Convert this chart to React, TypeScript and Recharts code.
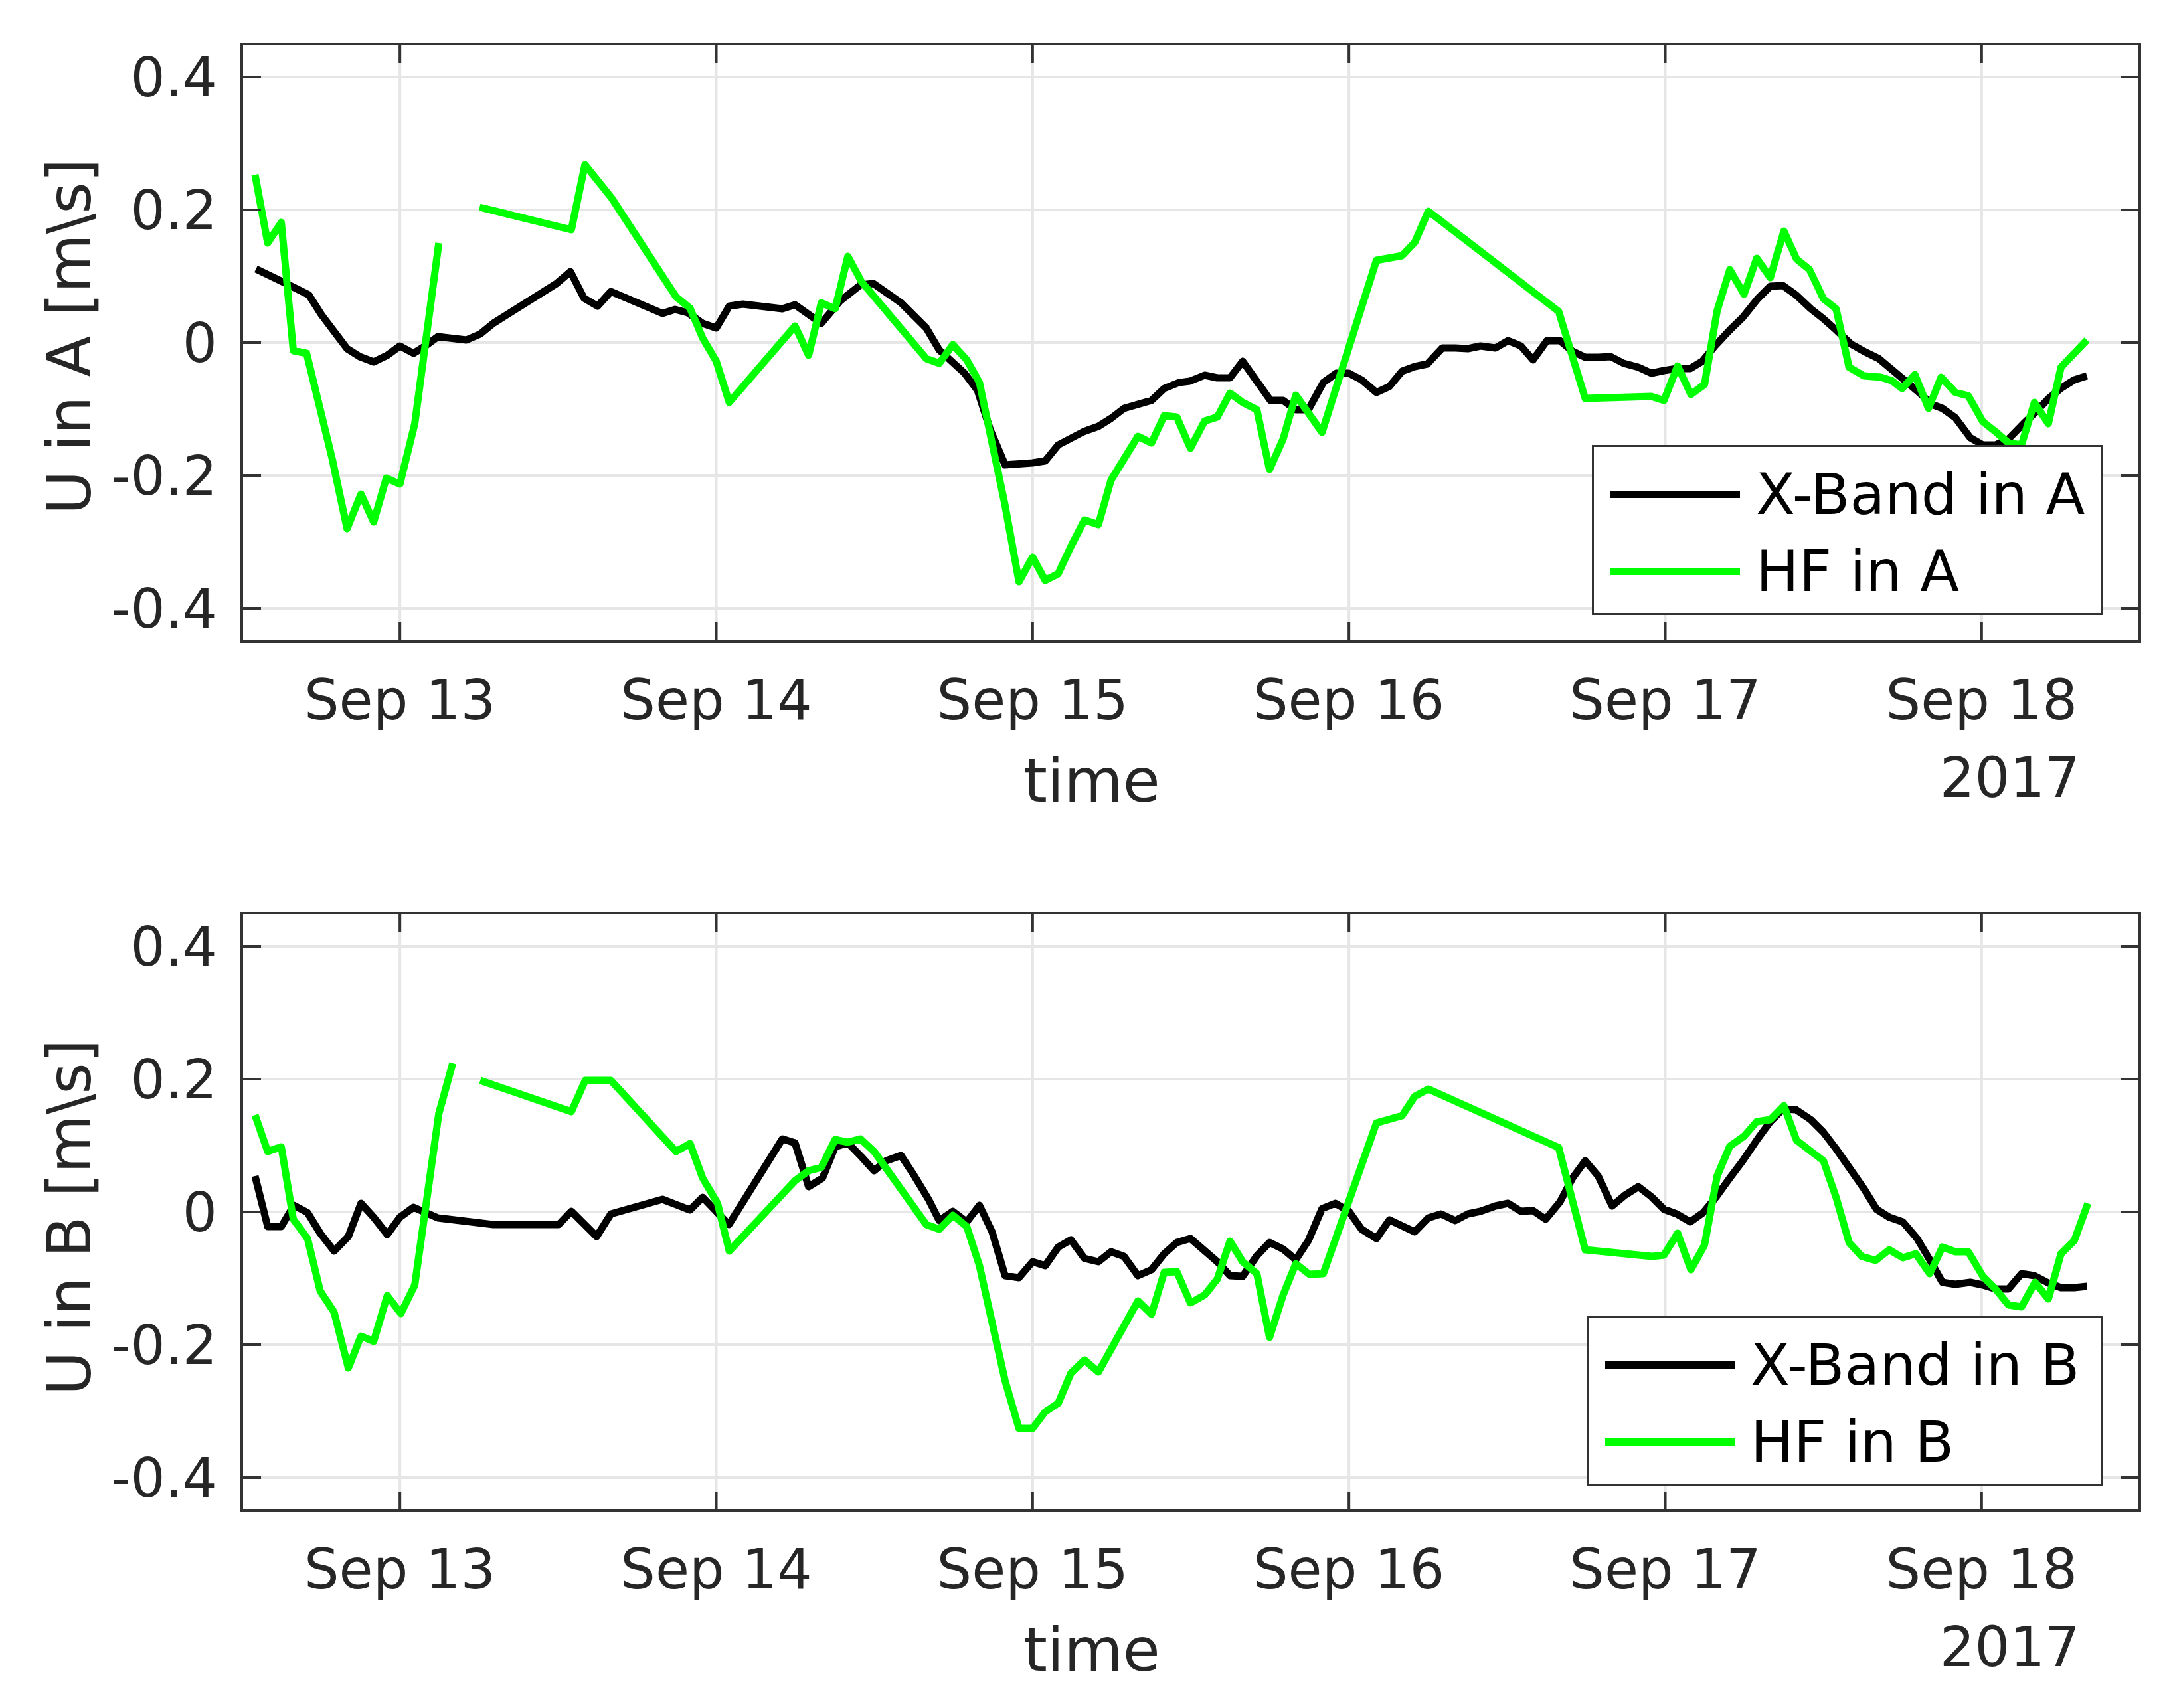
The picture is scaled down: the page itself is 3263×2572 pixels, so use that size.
import React from "react";
import {
  LineChart,
  Line,
  XAxis,
  YAxis,
  CartesianGrid,
  ReferenceArea,
  Legend,
  Label,
} from "recharts";

// time in days of September 2017, values in m/s
const xTicks = [13, 14, 15, 16, 17, 18];
const yTicks = [-0.4, -0.2, 0, 0.2, 0.4];
const xTickLabels = ["Sep 13", "Sep 14", "Sep 15", "Sep 16", "Sep 17", "Sep 18"];

const xbandATime = [
  12.545, 12.632, 12.712, 12.752, 12.833, 12.873, 12.917, 12.96, 13.0, 13.043, 13.08, 13.12,
  13.21, 13.254, 13.295, 13.495, 13.539, 13.582, 13.625, 13.667, 13.83, 13.87, 13.91, 13.957,
  14.0, 14.041, 14.084, 14.209, 14.249, 14.332, 14.392, 14.456, 14.497, 14.584, 14.664, 14.705,
  14.785, 14.826, 14.866, 14.913, 15.0, 15.04, 15.081, 15.161, 15.208, 15.248, 15.289, 15.376,
  15.416, 15.463, 15.497, 15.544, 15.584, 15.624, 15.664, 15.752, 15.792, 15.832, 15.872, 15.919,
  15.96, 16.0, 16.04, 16.087, 16.128, 16.168, 16.208, 16.248, 16.295, 16.336, 16.376, 16.416,
  16.463, 16.503, 16.544, 16.582, 16.626, 16.667, 16.707, 16.747, 16.788, 16.828, 16.868, 16.915,
  16.956, 16.996, 17.036, 17.079, 17.117, 17.157, 17.204, 17.245, 17.292, 17.332, 17.372, 17.413,
  17.46, 17.5, 17.54, 17.587, 17.628, 17.675, 17.715, 17.755, 17.802, 17.843, 17.876, 17.917,
  17.964, 18.004, 18.044, 18.085, 18.132, 18.172, 18.212, 18.253, 18.293, 18.333,
];
const xbandAVal = [
  0.111, 0.091, 0.072, 0.042, -0.009, -0.021, -0.029, -0.019, -0.005, -0.016, -0.005, 0.009,
  0.004, 0.013, 0.029, 0.089, 0.107, 0.067, 0.055, 0.077, 0.044, 0.05, 0.045, 0.029,
  0.022, 0.055, 0.058, 0.051, 0.057, 0.029, 0.063, 0.087, 0.089, 0.06, 0.022, -0.011,
  -0.046, -0.072, -0.131, -0.184, -0.181, -0.178, -0.154, -0.134, -0.126, -0.114, -0.099, -0.087,
  -0.069, -0.06, -0.058, -0.049, -0.053, -0.053, -0.028, -0.087, -0.087, -0.101, -0.101, -0.06,
  -0.046, -0.046, -0.056, -0.075, -0.066, -0.043, -0.036, -0.032, -0.008, -0.008, -0.009, -0.005,
  -0.008, 0.003, -0.005, -0.026, 0.003, 0.003, -0.013, -0.022, -0.022, -0.021, -0.031, -0.037,
  -0.046, -0.042, -0.039, -0.039, -0.028, -0.005, 0.019, 0.038, 0.066, 0.085, 0.086, 0.072,
  0.051, 0.036, 0.019, -0.002, -0.013, -0.024, -0.04, -0.056, -0.075, -0.093, -0.099, -0.113,
  -0.143, -0.154, -0.154, -0.145, -0.122, -0.104, -0.084, -0.068, -0.056, -0.05,
];

const hfATime = [
  12.542, 12.582, 12.625, 12.663, 12.705, 12.786, 12.833, 12.877, 12.917, 12.957, 13.0, 13.047,
  13.123, 13.19, 13.252, 13.542, 13.585, 13.669, 13.873, 13.917, 13.957, 14.0, 14.041, 14.249,
  14.292, 14.332, 14.376, 14.416, 14.459, 14.664, 14.705, 14.748, 14.792, 14.832, 14.913, 14.957,
  15.0, 15.04, 15.081, 15.121, 15.164, 15.208, 15.248, 15.333, 15.376, 15.416, 15.456, 15.499,
  15.544, 15.584, 15.624, 15.664, 15.709, 15.749, 15.792, 15.832, 15.915, 16.087, 16.168, 16.208,
  16.251, 16.663, 16.747, 16.956, 16.996, 17.039, 17.081, 17.124, 17.164, 17.204, 17.249, 17.289,
  17.332, 17.375, 17.415, 17.456, 17.5, 17.54, 17.581, 17.628, 17.681, 17.715, 17.749, 17.789,
  17.832, 17.872, 17.917, 17.958, 18.004, 18.044, 18.085, 18.126, 18.167, 18.211, 18.251, 18.293,
  18.333,
];
const hfAVal = [
  0.253, 0.15, 0.181, -0.012, -0.016, -0.175, -0.28, -0.228, -0.27, -0.204, -0.213, -0.122,
  0.15, null, 0.204, 0.17, 0.268, 0.218, 0.069, 0.052, 0.007, -0.028, -0.09, 0.025,
  -0.019, 0.06, 0.051, 0.13, 0.092, -0.024, -0.031, -0.003, -0.026, -0.06, -0.245, -0.36,
  -0.323, -0.358, -0.348, -0.307, -0.267, -0.274, -0.207, -0.141, -0.151, -0.11, -0.112, -0.159,
  -0.118, -0.112, -0.076, -0.09, -0.101, -0.191, -0.145, -0.079, -0.135, 0.124, 0.131, 0.151,
  0.198, 0.047, -0.084, -0.081, -0.087, -0.035, -0.078, -0.063, 0.048, 0.11, 0.073, 0.127,
  0.098, 0.168, 0.126, 0.11, 0.066, 0.051, -0.037, -0.05, -0.052, -0.057, -0.069, -0.048,
  -0.099, -0.052, -0.075, -0.08, -0.119, -0.134, -0.151, -0.154, -0.09, -0.122, -0.037, -0.016,
  0.004,
];

const xbandBTime = [
  12.542, 12.582, 12.625, 12.665, 12.708, 12.748, 12.792, 12.837, 12.877, 12.917, 12.96, 13.0,
  13.043, 13.12, 13.295, 13.502, 13.542, 13.622, 13.667, 13.83, 13.917, 13.957, 14.04, 14.209,
  14.249, 14.292, 14.336, 14.376, 14.416, 14.459, 14.499, 14.537, 14.584, 14.624, 14.671, 14.705,
  14.748, 14.792, 14.832, 14.872, 14.913, 14.957, 15.0, 15.04, 15.081, 15.121, 15.164, 15.208,
  15.248, 15.289, 15.333, 15.376, 15.416, 15.456, 15.499, 15.584, 15.624, 15.664, 15.709, 15.749,
  15.792, 15.832, 15.872, 15.915, 15.957, 16.0, 16.04, 16.087, 16.128, 16.168, 16.208, 16.251,
  16.291, 16.336, 16.376, 16.416, 16.463, 16.503, 16.544, 16.582, 16.622, 16.667, 16.707, 16.747,
  16.788, 16.832, 16.872, 16.915, 16.956, 16.996, 17.036, 17.079, 17.12, 17.16, 17.204, 17.245,
  17.292, 17.332, 17.372, 17.413, 17.46, 17.5, 17.54, 17.587, 17.628, 17.668, 17.708, 17.751,
  17.796, 17.836, 17.876, 17.917, 17.964, 18.004, 18.044, 18.085, 18.126, 18.167, 18.211, 18.251,
  18.293, 18.333,
];
const xbandBVal = [
  0.054, -0.022, -0.022, 0.01, -0.001, -0.032, -0.059, -0.037, 0.013, -0.008, -0.034, -0.008,
  0.007, -0.009, -0.019, -0.019, 0.001, -0.037, -0.003, 0.019, 0.003, 0.022, -0.019, 0.11,
  0.104, 0.038, 0.051, 0.098, 0.104, 0.083, 0.062, 0.077, 0.085, 0.056, 0.019, -0.013,
  0.001, -0.015, 0.01, -0.03, -0.096, -0.099, -0.075, -0.081, -0.053, -0.042, -0.07, -0.075,
  -0.06, -0.067, -0.096, -0.087, -0.063, -0.046, -0.04, -0.075, -0.096, -0.097, -0.066, -0.046,
  -0.056, -0.072, -0.043, 0.005, 0.013, 0.001, -0.026, -0.04, -0.012, -0.021, -0.03, -0.009,
  -0.003, -0.013, -0.003, 0.001, 0.009, 0.013, 0.001, 0.002, -0.011, 0.015, 0.051, 0.077,
  0.054, 0.009, 0.025, 0.038, 0.023, 0.004, -0.003, -0.015, -0.001, 0.022, 0.051, 0.077,
  0.11, 0.136, 0.155, 0.154, 0.139, 0.12, 0.095, 0.063, 0.035, 0.004, -0.008, -0.015,
  -0.04, -0.072, -0.106, -0.109, -0.106, -0.11, -0.116, -0.116, -0.093, -0.096, -0.107, -0.114,
  -0.114, -0.112,
];

const hfBTime = [
  12.542, 12.582, 12.625, 12.663, 12.708, 12.748, 12.792, 12.837, 12.877, 12.917, 12.96, 13.003,
  13.047, 13.123, 13.167, 13.21, 13.254, 13.542, 13.586, 13.667, 13.873, 13.917, 13.957, 14.004,
  14.041, 14.249, 14.292, 14.332, 14.376, 14.416, 14.456, 14.499, 14.664, 14.705, 14.748, 14.792,
  14.832, 14.913, 14.957, 15.0, 15.04, 15.081, 15.121, 15.164, 15.208, 15.248, 15.333, 15.376,
  15.416, 15.456, 15.499, 15.544, 15.584, 15.624, 15.664, 15.709, 15.749, 15.792, 15.832, 15.875,
  15.919, 16.087, 16.168, 16.208, 16.251, 16.663, 16.747, 16.958, 16.996, 17.039, 17.081, 17.124,
  17.164, 17.204, 17.249, 17.289, 17.332, 17.375, 17.415, 17.456, 17.5, 17.54, 17.581, 17.621,
  17.665, 17.708, 17.751, 17.792, 17.836, 17.876, 17.917, 17.958, 18.004, 18.044, 18.085, 18.126,
  18.169, 18.211, 18.251, 18.293, 18.336,
];
const hfBVal = [
  0.146, 0.091, 0.098, -0.011, -0.04, -0.119, -0.151, -0.235, -0.187, -0.195, -0.126, -0.153,
  -0.11, 0.148, 0.224, null, 0.198, 0.151, 0.198, 0.198, 0.091, 0.103, 0.051, 0.013,
  -0.059, 0.047, 0.062, 0.067, 0.109, 0.105, 0.11, 0.091, -0.019, -0.026, -0.005, -0.022,
  -0.081, -0.254, -0.326, -0.326, -0.301, -0.288, -0.243, -0.223, -0.241, -0.207, -0.134, -0.154,
  -0.091, -0.09, -0.137, -0.125, -0.101, -0.044, -0.075, -0.093, -0.189, -0.125, -0.078, -0.094,
  -0.093, 0.134, 0.145, 0.174, 0.185, 0.097, -0.057, -0.067, -0.065, -0.032, -0.087, -0.05,
  0.054, 0.099, 0.114, 0.136, 0.139, 0.16, 0.108, 0.093, 0.077, 0.022, -0.046, -0.067,
  -0.073, -0.057, -0.069, -0.063, -0.093, -0.053, -0.06, -0.06, -0.097, -0.116, -0.14, -0.143,
  -0.106, -0.131, -0.063, -0.043, 0.013,
];

const toPoints = (t: number[], v: (number | null)[]) => t.map((x, i) => ({ t: x, v: v[i] }));

const FONT = "'DejaVu Sans', 'Liberation Sans', sans-serif";
const INK = "#262626";
const BOX = "#333333";
const W = 3263;
const H = 1286;
const AXIS_W = 120;
const PLOT_W = 2858;
const PLOT_H = 900;
const TICK_LEN = 29;
const Y_GAP = 37;
const LINE_W = 11;

function YTick(props: any) {
  const { x, y, payload } = props;
  const axisX = x + Y_GAP;
  return (
    <g>
      <line x1={axisX} x2={axisX + TICK_LEN} y1={y} y2={y} stroke={BOX} strokeWidth={4} />
      <line x1={axisX + PLOT_W} x2={axisX + PLOT_W - TICK_LEN} y1={y} y2={y} stroke={BOX} strokeWidth={4} />
      <text x={x} y={y} textAnchor="end" dominantBaseline="central" fontSize={82} fill={INK} fontFamily={FONT}>
        {String(payload.value)}
      </text>
    </g>
  );
}

function XTick(props: any) {
  const { x, y, payload } = props;
  const label = xTickLabels[xTicks.indexOf(payload.value)];
  return (
    <g>
      <line x1={x} x2={x} y1={y} y2={y - TICK_LEN} stroke={BOX} strokeWidth={4} />
      <line x1={x} x2={x} y1={y - PLOT_H} y2={y - PLOT_H + TICK_LEN} stroke={BOX} strokeWidth={4} />
      <text x={x} y={y + 88} textAnchor="middle" dominantBaseline="central" fontSize={83} fill={INK} fontFamily={FONT}>
        {label}
      </text>
    </g>
  );
}

function LegendBox(props: any) {
  const { payload, boxW } = props;
  // X-Band first, as in the plot order
  const items = [...(payload || [])].sort((a: any, b: any) =>
    a.value.startsWith("X") === b.value.startsWith("X") ? 0 : a.value.startsWith("X") ? -1 : 1
  );
  return (
    <div
      style={{
        width: boxW,
        height: 256,
        boxSizing: "border-box",
        border: `3px solid ${BOX}`,
        background: "#fff",
        paddingTop: 13,
        fontFamily: FONT,
      }}
    >
      {items.map((p: any) => (
        <div key={p.value} style={{ display: "flex", alignItems: "center", height: 116 }}>
          <span style={{ display: "inline-block", marginLeft: 25, width: 195, height: LINE_W, background: p.color }} />
          <span style={{ marginLeft: 24, fontSize: 86, color: "#000", lineHeight: "116px", whiteSpace: "nowrap" }}>
            {p.value}
          </span>
        </div>
      ))}
    </div>
  );
}

function Panel(props: {
  site: string;
  xband: { t: number; v: number | null }[];
  hf: { t: number; v: number | null }[];
  top: number;
  legendLeft: number;
  legendTop: number;
  yLabelShift: number;
}) {
  const { site, xband, hf, top, legendLeft, legendTop, yLabelShift } = props;
  const boxW = 3167 - legendLeft;
  return (
    <LineChart
      width={W}
      height={H}
      margin={{ top, right: 41, bottom: H - top - PLOT_H - AXIS_W, left: 364 - AXIS_W }}
    >
      <CartesianGrid stroke="#e6e6e6" strokeWidth={4} fill="none" />
      <XAxis
        type="number"
        dataKey="t"
        domain={[12.5, 18.5]}
        ticks={xTicks}
        interval={0}
        allowDataOverflow
        height={AXIS_W}
        axisLine={false}
        tickLine={false}
        tickSize={0}
        tickMargin={0}
        tick={<XTick />}
      >
        <Label
          content={(p: any) => {
            const vb = p.viewBox;
            return (
              <g fontFamily={FONT} fill={INK}>
                <text x={vb.x + 1280} y={vb.y + 209} textAnchor="middle" dominantBaseline="central" fontSize={91}>
                  time
                </text>
                <text x={vb.x + 2768} y={vb.y + 205} textAnchor="end" dominantBaseline="central" fontSize={83}>
                  2017
                </text>
              </g>
            );
          }}
        />
      </XAxis>
      <YAxis
        type="number"
        domain={[-0.45, 0.45]}
        ticks={yTicks}
        interval={0}
        allowDataOverflow
        width={AXIS_W}
        axisLine={false}
        tickLine={false}
        tickSize={0}
        tickMargin={Y_GAP}
        tick={<YTick />}
      >
        <Label
          content={(p: any) => {
            const vb = p.viewBox;
            const cx = vb.x + vb.width - 260;
            const cy = vb.y + vb.height / 2 + yLabelShift;
            return (
              <text
                x={cx}
                y={cy}
                transform={`rotate(-90 ${cx} ${cy})`}
                textAnchor="middle"
                dominantBaseline="central"
                fontSize={91}
                fill={INK}
                fontFamily={FONT}
              >
                {`U in ${site} [m\\s]`}
              </text>
            );
          }}
        />
      </YAxis>
      <Line
        data={xband}
        dataKey="v"
        name={`X-Band in ${site}`}
        type="linear"
        stroke="#000000"
        strokeWidth={LINE_W}
        strokeLinejoin="round"
        dot={false}
        isAnimationActive={false}
      />
      <Line
        data={hf}
        dataKey="v"
        name={`HF in ${site}`}
        type="linear"
        stroke="#00ff00"
        strokeWidth={LINE_W}
        strokeLinejoin="round"
        dot={false}
        isAnimationActive={false}
      />
      <ReferenceArea x1={12.5} x2={18.5} y1={-0.45} y2={0.45} fill="none" stroke={BOX} strokeWidth={4} ifOverflow="visible" />
      <Legend
        layout="vertical"
        align="center"
        verticalAlign="middle"
        wrapperStyle={{ position: "absolute", left: legendLeft, top: legendTop, width: boxW, height: 256 }}
        content={(p: any) => <LegendBox payload={p.payload} boxW={boxW} />}
      />
    </LineChart>
  );
}

export default function App() {
  return (
    <div style={{ position: "absolute", left: 0, top: 0, width: W, height: 2572, background: "#fff" }}>
      <Panel
        site="A"
        xband={toPoints(xbandATime, xbandAVal)}
        hf={toPoints(hfATime, hfAVal)}
        top={66}
        legendLeft={2397}
        legendTop={670}
        yLabelShift={-9}
      />
      <Panel
        site="B"
        xband={toPoints(xbandBTime, xbandBVal)}
        hf={toPoints(hfBTime, hfBVal)}
        top={89}
        legendLeft={2389}
        legendTop={695}
        yLabelShift={8}
      />
    </div>
  );
}
